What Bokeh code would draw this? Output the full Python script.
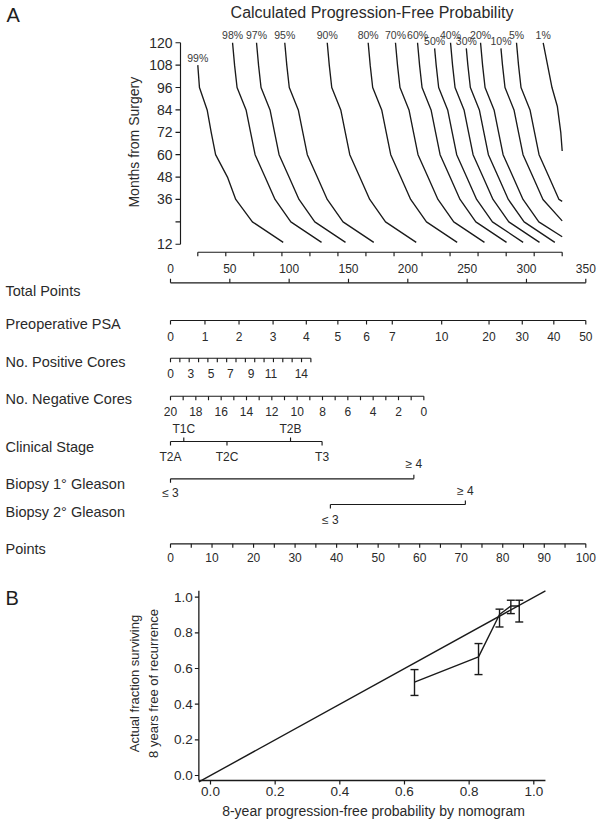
import math
from bokeh.plotting import figure
from bokeh.models import Range1d, Whisker, TeeHead, ColumnDataSource
from bokeh.embed import file_html
from bokeh.resources import INLINE
from bokeh.core.properties import value

# ======================= DATA =======================
# Panel A - calculated progression-free probability curves
# (x = total points, y = months from surgery)
curve_labels = ["99%", "98%", "97%", "95%", "90%", "80%", "70%", "60%",
                "50%", "40%", "30%", "20%", "10%", "5%", "1%"]
months_std = [120, 108, 96, 84, 72, 60, 48, 36, 24, 13]
curve_months = [
    [108, 96, 84, 72, 60, 48, 36, 24, 13],
    months_std, months_std, months_std, months_std, months_std, months_std, months_std,
    [117, 108, 96, 84, 72, 60, 48, 36, 24, 13],
    months_std,
    [117, 108, 96, 84, 72, 60, 48, 36, 24, 13],
    [120, 108, 96, 84, 72, 60, 48, 36, 24, 16],
    [117, 108, 96, 84, 72, 60, 48, 36, 24.5],
    [120, 108, 96, 84, 72, 60, 48, 36, 35],
    [120, 96, 86, 72, 62],
]
curve_total_points = [
    [23.0, 24.4, 30.9, 34.3, 38.0, 48.0, 55.0, 69.0, 95.0],
    [52.3, 54.0, 56.1, 63.7, 67.5, 71.3, 79.7, 88.1, 101.4, 127.3],
    [72.5, 74.2, 76.3, 83.9, 87.7, 91.5, 99.9, 108.3, 121.6, 147.5],
    [96.3, 98.0, 100.1, 107.7, 111.5, 115.3, 123.7, 132.1, 145.4, 171.3],
    [132.1, 133.8, 135.9, 143.5, 147.3, 151.1, 159.5, 167.9, 181.2, 207.1],
    [166.6, 168.3, 170.4, 178.0, 181.8, 185.6, 194.0, 202.4, 215.7, 241.6],
    [189.6, 191.3, 193.4, 201.0, 204.8, 208.6, 217.0, 225.4, 238.7, 264.6],
    [208.2, 209.9, 212.0, 219.6, 223.4, 227.2, 235.6, 244.0, 257.3, 283.2],
    [222.6, 223.9, 226.0, 233.6, 237.4, 241.2, 249.6, 258.0, 271.3, 297.2],
    [236.0, 237.7, 239.8, 247.4, 251.2, 255.0, 263.4, 271.8, 285.1, 311.0],
    [249.3, 250.6, 252.7, 260.3, 264.1, 267.9, 276.3, 284.7, 298.0, 323.9],
    [261.3, 263.0, 265.1, 272.7, 276.5, 280.3, 288.7, 297.1, 310.4, 330.1],
    [278.5, 279.8, 281.9, 289.5, 293.3, 297.1, 305.5, 313.9, 330.1],
    [291.6, 293.3, 295.4, 303.0, 306.8, 310.6, 319.0, 327.4, 330.1],
    [314.1, 321.5, 326.0, 328.9, 330.1],
]
month_ticks = [12, 24, 36, 48, 60, 72, 84, 96, 108, 120]
month_tick_labels = ["12", "", "36", "48", "60", "72", "84", "96", "108", "120"]
curve_axis_ticks_tp = [23.0, 46.6, 70.2, 93.9, 117.5, 141.1, 164.7, 188.4,
                       212.0, 235.6, 259.2, 282.9, 306.5, 330.1]

# Nomogram scales (positions in "Points" 0-100 unless noted)
total_point_ticks = [0, 50, 100, 150, 200, 250, 300, 350]          # total points
psa_labels = ["0", "1", "2", "3", "4", "5", "6", "7", "10", "20", "30", "40", "50"]
psa_points = [0, 8.3, 16.5, 24.7, 32.7, 40.3, 47.2, 53.4, 65.3, 76.7, 84.7, 92.3, 100]
pos_core_tick_points = [0, 2.25, 4.5, 6.76, 9.0, 11.27, 13.52, 15.77, 18.03,
                        20.28, 22.53, 24.79, 27.04, 29.29, 31.55, 33.8]
pos_core_labels = ["0", "3", "5", "7", "9", "11", "14"]
pos_core_label_points = [0, 4.9, 9.8, 14.4, 19.4, 24.2, 31.5]
neg_core_values = list(range(20, -1, -1))
neg_core_zero_points = 61.0       # points given for 0 negative cores
neg_core_labels = [str(v) for v in range(20, -1, -2)]
stage_labels = ["T2A", "T1C", "T2C", "T2B", "T3"]
stage_points = [0, 3.2, 13.6, 28.9, 36.5]
stage_above = [False, True, False, True, False]
g1_labels = ["\u2264 3", "\u2265 4"]
g1_points = [0, 58.6]
g2_labels = ["\u2264 3", "\u2265 4"]
g2_points = [38.5, 71.0]
point_ticks = list(range(0, 101, 5))
point_labels = list(range(0, 101, 10))

# Panel B - calibration
pred = [0.631, 0.829, 0.894, 0.929, 0.955]
obs = [0.524, 0.665, 0.903, 0.951, 0.951]
obs_low = [0.449, 0.566, 0.833, 0.908, 0.861]
obs_high = [0.594, 0.740, 0.933, 0.983, 0.983]
calib_ticks = [0.0, 0.2, 0.4, 0.6, 0.8, 1.0]
calib_lo, calib_hi_x, calib_hi_y = -0.036, 1.036, 1.036
calib_lo_y = -0.028

# ======================= STYLE / LAYOUT =======================
FONT = value("Liberation Sans")
INK = "#1a1a1a"
TXT = "#2a2a2a"
W = 600
H = 820

PT_PX = 4.153          # pixels per nomogram point
ORIGIN_PX = 170.0      # px of points = 0
TP_PER_PT = 3.5        # total points per point
x0 = -ORIGIN_PX / PT_PX
x1 = (W - ORIGIN_PX) / PT_PX
TP_PX = PT_PX / TP_PER_PT

M12_Y = 243.7          # px (from top) of month 12
MO_PX = 1.865          # pixels per month

BX_ORIGIN = 210.0      # px of calibration x = 0
BX_PX = 323.3
BY_ORIGIN = 775.0      # px (from top) of calibration y = 0
BY_PX = 178.3

p = figure(width=W, height=H, x_range=Range1d(x0, x1), y_range=Range1d(H, 0),
           output_backend="svg", toolbar_location=None,
           x_axis_location=None, y_axis_location=None, min_border=0,
           min_border_left=0, min_border_right=0, min_border_top=0, min_border_bottom=0)
p.extra_x_ranges = {"tp": Range1d(x0 * TP_PER_PT, x1 * TP_PER_PT),
                    "bx": Range1d(-BX_ORIGIN / BX_PX, (W - BX_ORIGIN) / BX_PX)}
p.extra_y_ranges = {"mo": Range1d(12 - (H - M12_Y) / MO_PX, 12 + M12_Y / MO_PX),
                    "by": Range1d(-(H - BY_ORIGIN) / BY_PX, BY_ORIGIN / BY_PX)}
p.grid.visible = False
p.outline_line_color = None
p.background_fill_color = "white"

LW = 1.15
LEFT = (5 - ORIGIN_PX) / PT_PX


def seg(xa, ya, xb, yb, lw=LW, **kw):
    p.segment(x0=xa, y0=ya, x1=xb, y1=yb, line_color=INK, line_width=lw, **kw)


def txt(xs, ys, texts, size, align="center", baseline="middle", color=TXT, **kw):
    p.text(x=xs, y=ys, text=texts, text_font=FONT, text_font_size=value(size),
           text_align=align, text_baseline=baseline, text_color=color, **kw)


# --- panel label and title ---
txt([(6 - ORIGIN_PX) / PT_PX], [14.5], ["A"], "20px", align="left", color="#1e1e1e")
txt([(371.5 - ORIGIN_PX) / PT_PX], [12], ["Calculated Progression-Free Probability"], "16px")

# --- curves ---
for mo, tp in zip(curve_months, curve_total_points):
    p.line(tp, mo, x_range_name="tp", y_range_name="mo", line_color=INK, line_width=1.35)
txt([tp[0] for tp in curve_total_points], [mo[0] for mo in curve_months], curve_labels,
    "10.5px", color="#3a3a3a", y_offset=-7.5, x_range_name="tp", y_range_name="mo")

# --- months axis ---
AX_TP = 10 / TP_PX
TICK_TP = 5 / TP_PX
seg([AX_TP], [12], [AX_TP], [120], x_range_name="tp", y_range_name="mo")
seg([AX_TP] * len(month_ticks), month_ticks, [AX_TP - TICK_TP] * len(month_ticks), month_ticks,
    x_range_name="tp", y_range_name="mo")
txt([AX_TP] * len(month_ticks), month_ticks, month_tick_labels, "14px", align="right",
    x_offset=-8, x_range_name="tp", y_range_name="mo")
txt([(133 - ORIGIN_PX) / PT_PX], [141.7], ["Months from Surgery"], "14px", angle=math.pi / 2)

# --- curve x-axis tick bar ---
TB = 251.7
n = len(curve_axis_ticks_tp)
seg([curve_axis_ticks_tp[0]], [TB], [curve_axis_ticks_tp[-1]], [TB], x_range_name="tp")
seg(curve_axis_ticks_tp, [TB] * n, curve_axis_ticks_tp, [TB + 4] * n, x_range_name="tp")

# --- Total points ---
TOT_Y = 282.3
n = len(total_point_ticks)
seg([total_point_ticks[0]], [TOT_Y], [total_point_ticks[-1]], [TOT_Y], x_range_name="tp")
seg(total_point_ticks, [TOT_Y] * n, total_point_ticks, [TOT_Y - 4] * n, x_range_name="tp")
txt(total_point_ticks, [TOT_Y - 14] * n, [str(v) for v in total_point_ticks], "12px",
    x_range_name="tp")

# --- Preoperative PSA ---
PSA_Y = 320
n = len(psa_points)
seg([psa_points[0]], [PSA_Y], [psa_points[-1]], [PSA_Y])
seg(psa_points, [PSA_Y] * n, psa_points, [PSA_Y + 4] * n)
txt(psa_points, [PSA_Y + 15.5] * n, psa_labels, "12px")

# --- No. positive cores ---
POS_Y = 357.7
n = len(pos_core_tick_points)
seg([pos_core_tick_points[0]], [POS_Y], [pos_core_tick_points[-1]], [POS_Y])
seg(pos_core_tick_points, [POS_Y] * n, pos_core_tick_points, [POS_Y + 4] * n)
txt(pos_core_label_points, [POS_Y + 15.5] * len(pos_core_labels), pos_core_labels, "12px")

# --- No. negative cores ---
NEG_Y = 395.7
neg_pts = [(20 - v) * neg_core_zero_points / 20 for v in neg_core_values]
n = len(neg_pts)
seg([neg_pts[0]], [NEG_Y], [neg_pts[-1]], [NEG_Y])
seg(neg_pts, [NEG_Y] * n, neg_pts, [NEG_Y + 4] * n)
neg_lab_pts = [(20 - int(s)) * neg_core_zero_points / 20 for s in neg_core_labels]
txt(neg_lab_pts, [NEG_Y + 15] * len(neg_lab_pts), neg_core_labels, "12px")


# --- categorical rows (labels above / below) ---
def cat_row(y, pts, labels, above, up_off, down_off):
    seg([min(pts)], [y], [max(pts)], [y])
    ends = [y - 4 if a else y + 4 for a in above]
    seg(pts, [y] * len(pts), pts, ends)
    txt(pts, [y - up_off if a else y + down_off for a in above], labels, "12px")


cat_row(441, stage_points, stage_labels, stage_above, 12.7, 15)
cat_row(478.3, g1_points, g1_labels, [False, True], 15, 14.4)
cat_row(504, g2_points, g2_labels, [False, True], 13.5, 15.5)

# --- Points ---
PTS_Y = 543.3
n = len(point_ticks)
seg([point_ticks[0]], [PTS_Y], [point_ticks[-1]], [PTS_Y])
seg(point_ticks, [PTS_Y] * n, point_ticks, [PTS_Y + 4] * n)
txt(point_labels, [PTS_Y + 14] * len(point_labels), [str(v) for v in point_labels], "12px")

# --- row titles ---
row_titles = ["Total Points", "Preoperative PSA", "No. Positive Cores", "No. Negative Cores",
              "Clinical Stage", "Biopsy 1\u00b0 Gleason", "Biopsy 2\u00b0 Gleason", "Points"]
row_title_y = [290, 323.3, 361, 398.7, 446, 483.3, 511, 548.3]
txt([LEFT] * len(row_titles), row_title_y, row_titles, "14.5px", align="left")

# ======================= PANEL B (calibration) =======================
B = dict(x_range_name="bx", y_range_name="by")
TKX = 4 / BX_PX
TKY = 4 / BY_PX
# axes
seg([calib_lo], [calib_lo_y], [calib_lo], [calib_hi_y], lw=1.3, **B)
seg([calib_lo], [calib_lo_y], [calib_hi_x], [calib_lo_y], lw=1.3, **B)
nt = len(calib_ticks)
seg(calib_ticks, [calib_lo_y] * nt, calib_ticks, [calib_lo_y - TKY] * nt, lw=1.2, **B)
seg([calib_lo] * nt, calib_ticks, [calib_lo - TKX] * nt, calib_ticks, lw=1.2, **B)
tick_txt = ["%.1f" % t for t in calib_ticks]
txt(calib_ticks, [calib_lo_y] * nt, tick_txt, "13.5px", baseline="top", y_offset=7, **B)
txt([calib_lo] * nt, calib_ticks, tick_txt, "13.5px", align="right", x_offset=-6, **B)

# ideal line, observed line and error bars
p.line([calib_lo, calib_hi_x], [calib_lo, calib_hi_x], line_color=INK, line_width=1.4, **B)
p.line(pred, obs, line_color=INK, line_width=1.4, **B)
src = ColumnDataSource(dict(x=pred, lo=obs_low, hi=obs_high))
p.add_layout(Whisker(source=src, base="x", lower="lo", upper="hi", dimension="height",
                     x_range_name="bx", y_range_name="by",
                     line_color=INK, line_width=1.4,
                     upper_head=TeeHead(size=8, line_color=INK, line_width=1.4),
                     lower_head=TeeHead(size=8, line_color=INK, line_width=1.4)))

# texts of panel B
txt([(5 - BX_ORIGIN) / BX_PX], [(775 - 597) / BY_PX], ["B"], "20px", align="left",
    color="#1e1e1e", **B)
txt([(373 - BX_ORIGIN) / BX_PX], [(775 - 810) / BY_PX],
    ["8-year progression-free probability by nomogram"], "14px", **B)
txt([(134 - BX_ORIGIN) / BX_PX, (153 - BX_ORIGIN) / BX_PX], [(775 - 683) / BY_PX] * 2,
    ["Actual fraction surviving", "8 years free of recurrence"], "13px",
    angle=math.pi / 2, **B)

open("out.html", "w").write(file_html(p, INLINE))
